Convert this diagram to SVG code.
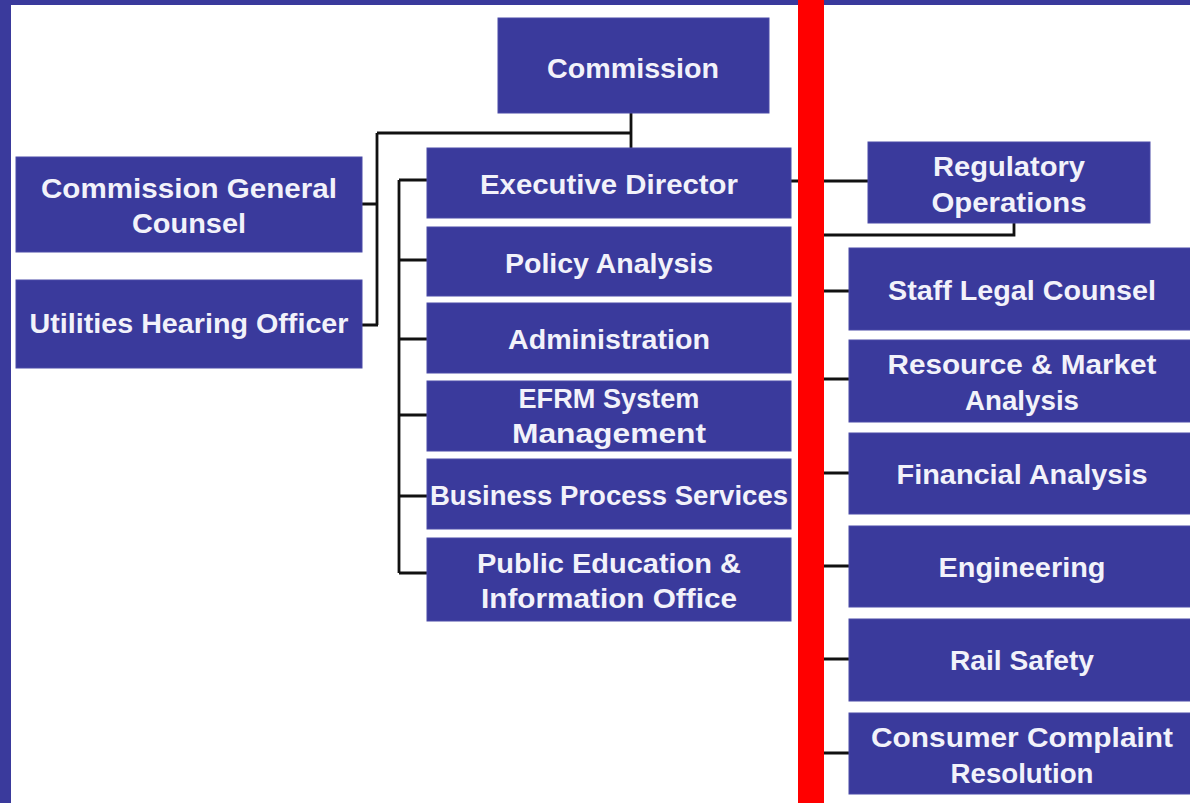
<svg xmlns="http://www.w3.org/2000/svg" width="1190" height="803" viewBox="0 0 1190 803">
<style>
.box{fill:#3a3a9c;stroke:#4b4ba8;stroke-width:1}
.t{font-family:"Liberation Sans",Arial,sans-serif;font-weight:bold;font-size:27px;fill:#f2f2fa;text-anchor:middle}
.c{stroke:#111;stroke-width:2.8;fill:none}
</style>
<rect x="0" y="0" width="1190" height="803" fill="#ffffff"/>
<rect x="0" y="0" width="1190" height="5" fill="#3a3a9c"/>
<rect x="0" y="0" width="11" height="803" fill="#3a3a9c"/>
<g id="connectors">
<path class="c" d="M631 113V148M377 133H631M377 133V325M362 204H377M362 325H378"/>
<path class="c" d="M399 180V573M399 180H427M399 260H427M399 339H427M399 415H427M399 496H427M399 573H427"/>
<path class="c" d="M791 181H868M1014 223V235H822M822 235V753M822 291H849M822 379H849M822 473H849M822 566H849M822 659H849M822 753H849"/>
</g>
<g id="commission"><rect class="box" x="498" y="18" width="271" height="95"/><text class="t" x="633" y="78" textLength="172" lengthAdjust="spacingAndGlyphs">Commission</text></g>
<g id="general-counsel"><rect class="box" x="16" y="157" width="346" height="95"/><text class="t" x="189" y="198" textLength="296" lengthAdjust="spacingAndGlyphs">Commission General</text><text class="t" x="189" y="233" textLength="114" lengthAdjust="spacingAndGlyphs">Counsel</text></g>
<g id="hearing-officer"><rect class="box" x="16" y="280" width="346" height="88"/><text class="t" x="189" y="333" textLength="319" lengthAdjust="spacingAndGlyphs">Utilities Hearing Officer</text></g>
<g id="executive-director"><rect class="box" x="427" y="148" width="364" height="70"/><text class="t" x="609" y="194" textLength="258" lengthAdjust="spacingAndGlyphs">Executive Director</text></g>
<g id="policy-analysis"><rect class="box" x="427" y="227" width="364" height="69"/><text class="t" x="609" y="273" textLength="208" lengthAdjust="spacingAndGlyphs">Policy Analysis</text></g>
<g id="administration"><rect class="box" x="427" y="303" width="364" height="70"/><text class="t" x="609" y="349" textLength="202" lengthAdjust="spacingAndGlyphs">Administration</text></g>
<g id="efrm"><rect class="box" x="427" y="381" width="364" height="70"/><text class="t" x="609" y="408" textLength="181" lengthAdjust="spacingAndGlyphs">EFRM System</text><text class="t" x="609" y="443" textLength="194" lengthAdjust="spacingAndGlyphs">Management</text></g>
<g id="business-process"><rect class="box" x="427" y="459" width="364" height="70"/><text class="t" x="609" y="505" textLength="358" lengthAdjust="spacingAndGlyphs">Business Process Services</text></g>
<g id="public-education"><rect class="box" x="427" y="538" width="364" height="83"/><text class="t" x="609" y="573" textLength="264" lengthAdjust="spacingAndGlyphs">Public Education &amp;</text><text class="t" x="609" y="608" textLength="256" lengthAdjust="spacingAndGlyphs">Information Office</text></g>
<g id="regulatory-operations"><rect class="box" x="868" y="142" width="282" height="81"/><text class="t" x="1009" y="176" textLength="152" lengthAdjust="spacingAndGlyphs">Regulatory</text><text class="t" x="1009" y="212" textLength="155" lengthAdjust="spacingAndGlyphs">Operations</text></g>
<g id="staff-legal"><rect class="box" x="849" y="248" width="345" height="82"/><text class="t" x="1022" y="300" textLength="268" lengthAdjust="spacingAndGlyphs">Staff Legal Counsel</text></g>
<g id="resource-market"><rect class="box" x="849" y="340" width="345" height="82"/><text class="t" x="1022" y="374" textLength="269" lengthAdjust="spacingAndGlyphs">Resource &amp; Market</text><text class="t" x="1022" y="410" textLength="114" lengthAdjust="spacingAndGlyphs">Analysis</text></g>
<g id="financial"><rect class="box" x="849" y="433" width="345" height="81"/><text class="t" x="1022" y="484" textLength="251" lengthAdjust="spacingAndGlyphs">Financial Analysis</text></g>
<g id="engineering"><rect class="box" x="849" y="526" width="345" height="81"/><text class="t" x="1022" y="577" textLength="167" lengthAdjust="spacingAndGlyphs">Engineering</text></g>
<g id="rail-safety"><rect class="box" x="849" y="619" width="345" height="82"/><text class="t" x="1022" y="670" textLength="144" lengthAdjust="spacingAndGlyphs">Rail Safety</text></g>
<g id="consumer-complaint"><rect class="box" x="849" y="713" width="345" height="81"/><text class="t" x="1022" y="747" textLength="302" lengthAdjust="spacingAndGlyphs">Consumer Complaint</text><text class="t" x="1022" y="783" textLength="143" lengthAdjust="spacingAndGlyphs">Resolution</text></g>
<rect x="798" y="0" width="26" height="803" fill="#ff0000"/>
</svg>
